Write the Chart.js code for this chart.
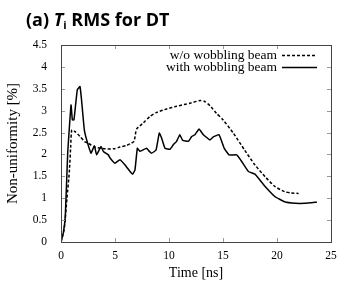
<!DOCTYPE html>
<html>
<head>
<meta charset="utf-8">
<script src="https://cdn.jsdelivr.net/npm/chart.js@4.4.0/dist/chart.umd.min.js"></script>
<style>
    body { margin: 0; background: #fff; }
    canvas { display: block; }
</style>
</head>
<body>
<canvas id="myChart" width="354" height="282"></canvas>
<script>
// values
const timeWith = [0, 0.21, 0.4, 0.62, 0.93, 1.05, 1.2, 1.51, 1.76, 1.9, 2.16, 2.38, 2.78, 3.09, 3.3, 3.7, 3.92, 4.38, 4.54, 5.0, 5.46, 5.93, 6.39, 6.63, 6.85, 7.07, 7.31, 7.56, 7.94, 8.18, 8.4, 8.8, 9.1, 9.32, 9.63, 10.1, 10.4, 10.7, 11.0, 11.27, 11.8, 12.1, 12.4, 12.78, 13.18, 13.8, 14.1, 14.63, 15.12, 15.56, 16.27, 16.73, 17.35, 17.96, 18.4, 18.9, 19.8, 20.7, 21.7, 22.6, 23.7];
const withWobbling = [0, 0.2, 0.6, 2.03, 3.13, 2.79, 2.79, 3.48, 3.55, 3.25, 2.56, 2.33, 2.03, 2.2, 1.99, 2.18, 2.07, 1.99, 1.92, 1.80, 1.88, 1.76, 1.61, 1.55, 1.65, 2.14, 2.07, 2.1, 2.14, 2.07, 2.03, 2.1, 2.49, 2.37, 2.14, 2.12, 2.22, 2.30, 2.45, 2.32, 2.30, 2.41, 2.45, 2.58, 2.45, 2.33, 2.40, 2.45, 2.14, 1.99, 1.99, 1.84, 1.61, 1.55, 1.42, 1.27, 1.04, 0.92, 0.885, 0.885, 0.91];

const timeWithout = [0, 0.3, 0.55, 0.77, 0.9, 1.0, 1.3, 1.76, 2.2, 2.5, 3.1, 4.0, 4.94, 5.46, 6.0, 6.39, 6.76, 7.0, 7.62, 8.24, 8.86, 9.79, 10.7, 11.4, 11.94, 12.87, 13.3, 13.8, 14.4, 15.0, 15.95, 17.0, 17.96, 18.9, 19.8, 20.7, 21.3, 22.0];
const withoutWobbling = [0, 0.3, 1.0, 1.6, 2.2, 2.56, 2.52, 2.41, 2.29, 2.26, 2.17, 2.13, 2.13, 2.17, 2.2, 2.24, 2.30, 2.58, 2.72, 2.87, 2.96, 3.04, 3.10, 3.14, 3.17, 3.23, 3.21, 3.11, 2.94, 2.79, 2.49, 2.1, 1.76, 1.49, 1.27, 1.15, 1.12, 1.11];

const xTicks = [0, 5, 10, 15, 20, 25];
const yTicks = [0, 0.5, 1, 1.5, 2, 2.5, 3, 3.5, 4, 4.5];
const seriesLabels = ['w/o wobbling beam', 'with wobbling beam'];
const yTitle = 'Non-uniformity [%]';

const serif = "'Liberation Serif', 'DejaVu Serif', serif";

function toPoints(xs, ys) {
    return xs.map((x, i) => ({ x: x, y: ys[i] }));
}

// title, y title, frame with inner ticks, gnuplot-like legend
const extras = {
    id: 'extras',
    afterDraw(chart) {
        const ctx = chart.ctx;
        const a = chart.chartArea;
        const xs = chart.scales.x;
        const ys = chart.scales.y;

        ctx.save();
        // title
        ctx.fillStyle = '#000';
        ctx.textBaseline = 'alphabetic';
        let x = 26;
        const base = 26;
        ctx.font = "bold 18px 'Open Sans'";
        ctx.fillText('(a) ', x, base);
        x += ctx.measureText('(a) ').width;
        ctx.font = "italic bold 18px 'Open Sans'";
        ctx.fillText('T', x, base);
        x += ctx.measureText('T').width;
        ctx.font = "bold 11px 'Open Sans'";
        ctx.fillText('i', x, base + 3);
        x += ctx.measureText('i').width;
        ctx.font = "bold 18px 'Open Sans'";
        ctx.fillText(' RMS for DT', x, base);

        // y axis title, centred on the plot
        ctx.save();
        ctx.translate(13, (a.top + a.bottom) / 2);
        ctx.rotate(-Math.PI / 2);
        ctx.font = '15px ' + serif;
        ctx.textAlign = 'center';
        ctx.textBaseline = 'middle';
        ctx.fillText(yTitle, 0, 0);
        ctx.restore();

        // inner ticks
        ctx.strokeStyle = '#999';
        ctx.lineWidth = 1;
        ctx.beginPath();
        xTicks.forEach(v => {
            const px = Math.round(xs.getPixelForValue(v)) + 0.5;
            ctx.moveTo(px, a.bottom); ctx.lineTo(px, a.bottom - 4);
            ctx.moveTo(px, a.top); ctx.lineTo(px, a.top + 4);
        });
        yTicks.forEach(v => {
            const py = Math.round(ys.getPixelForValue(v)) + 0.5;
            ctx.moveTo(a.left, py); ctx.lineTo(a.left + 4, py);
            ctx.moveTo(a.right, py); ctx.lineTo(a.right - 4, py);
        });
        ctx.stroke();

        // frame
        ctx.strokeStyle = '#444';
        ctx.strokeRect(Math.round(a.left) + 0.5, Math.round(a.top) + 0.5,
            Math.round(a.right - a.left), Math.round(a.bottom - a.top));

        // legend
        ctx.font = '13.5px ' + serif;
        ctx.textAlign = 'right';
        ctx.textBaseline = 'middle';
        chart.data.datasets.forEach((ds, i) => {
            const ly = 55 + i * 12;
            ctx.fillStyle = '#000';
            ctx.fillText(ds.label, 277, ly);
            ctx.strokeStyle = ds.borderColor;
            ctx.lineWidth = ds.borderWidth;
            ctx.setLineDash(ds.borderDash || []);
            ctx.beginPath();
            ctx.moveTo(282, ly + 0.5);
            ctx.lineTo(317, ly + 0.5);
            ctx.stroke();
        });
        ctx.restore();
    }
};

const ctx = document.getElementById('myChart').getContext('2d');
const myChart = new Chart(ctx, {
    type: 'line',
    data: {
        datasets: [{
            label: seriesLabels[0],
            data: toPoints(timeWithout, withoutWobbling),
            borderColor: '#000',
            borderWidth: 1.5,
            borderDash: [3, 2],
            pointRadius: 0,
            tension: 0.2,
            fill: false
        }, {
            label: seriesLabels[1],
            data: toPoints(timeWith, withWobbling),
            borderColor: '#000',
            borderWidth: 1.5,
            pointRadius: 0,
            tension: 0.1,
            fill: false
        }]
    },
    options: {
        responsive: false,
        animation: false,
        devicePixelRatio: 1,
        layout: {
            padding: { top: 45, right: 23, left: 0, bottom: 0 }
        },
        scales: {
            x: {
                type: 'linear',
                min: 0,
                max: 25,
                grid: { display: false, drawTicks: false },
                border: { display: false },
                afterBuildTicks: s => { s.ticks = xTicks.map(v => ({ value: v })); },
                afterFit: s => { s.height = 40; },
                ticks: {
                    color: '#000',
                    padding: 7,
                    maxRotation: 0,
                    font: { family: serif, size: 11.5 },
                    callback: v => String(v)
                },
                title: {
                    display: true,
                    text: 'Time [ns]',
                    color: '#000',
                    padding: { top: 2, bottom: 0 },
                    font: { family: serif, size: 14 }
                }
            },
            y: {
                min: 0,
                max: 4.5,
                grid: { display: false, drawTicks: false },
                border: { display: false },
                afterBuildTicks: s => { s.ticks = yTicks.map(v => ({ value: v })); },
                afterFit: s => { s.width = 61; },
                ticks: {
                    color: '#000',
                    padding: 14,
                    font: { family: serif, size: 11.5 },
                    callback: v => String(v)
                },
                title: { display: false }
            }
        },
        plugins: {
            legend: { display: false },
            tooltip: { enabled: false }
        }
    },
    plugins: [extras]
});
</script>
</body>
</html>
